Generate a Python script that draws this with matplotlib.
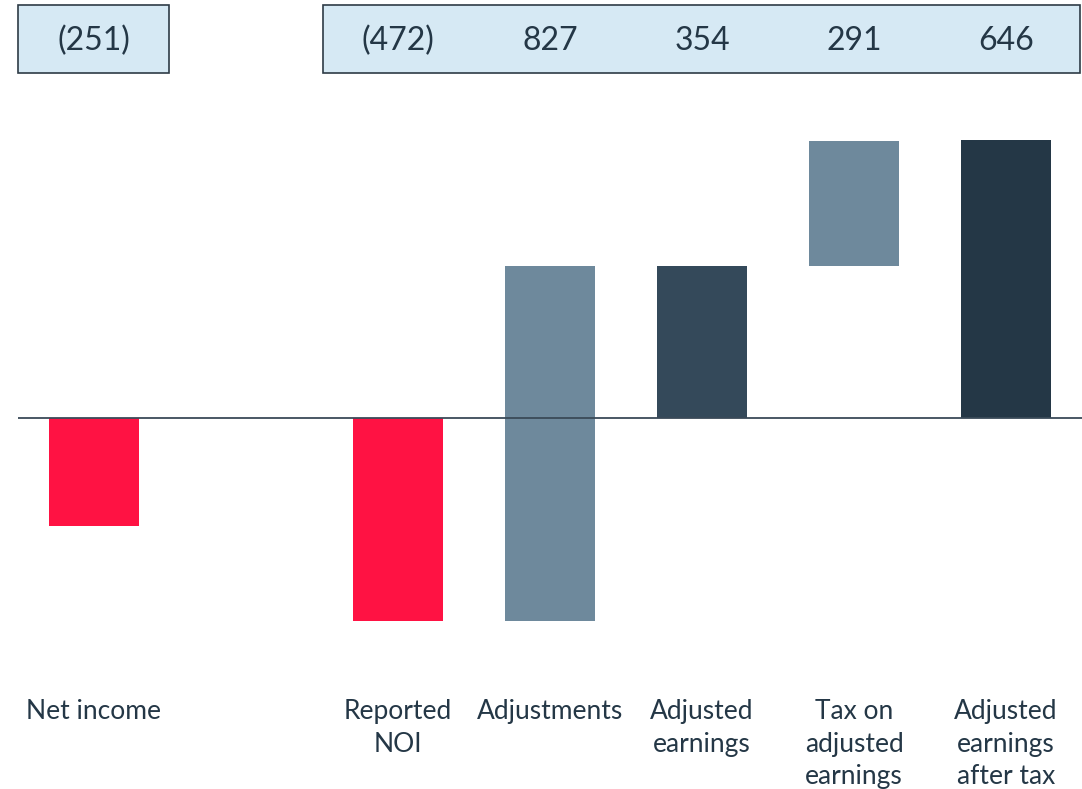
import matplotlib
matplotlib.use("Agg")
import matplotlib.pyplot as plt
from matplotlib.patches import Rectangle

plt.rcParams['font.family'] = ['Lato', 'DejaVu Sans']

# data
labels = ["Net income", "Reported\nNOI", "Adjustments", "Adjusted\nearnings",
          "Tax on\nadjusted\nearnings", "Adjusted\nearnings\nafter tax"]
slots = [0, 2, 3, 4, 5, 6]
bottoms = [0, 0, -472, 0, 354, 0]
heights = [-251, -472, 826, 354, 291, 646]
value_text = ["(251)", "(472)", "827", "354", "291", "646"]
colors = ["#FF1243", "#FF1243", "#6E899C", "#34495A", "#6E899C", "#243746"]

W, H = 1082, 789
fig = plt.figure(figsize=(W / 100, H / 100), dpi=100)

# axes placed in pixel terms: x 18..1082, y 100..680 (from top)
ax = fig.add_axes([18 / W, 1 - 680 / H, (1082 - 18) / W, (680 - 100) / H])
scale = 0.43  # px per unit
ax.set_xlim(-0.5, 6.5)
ax.set_ylim(-(680 - 418) / scale, (418 - 100) / scale)

ax.bar(slots, heights, bottom=bottoms, width=0.59, color=colors, zorder=2)
ax.axhline(0, color="#3A4A58", lw=1.3, zorder=3)
ax.axis("off")

txt_col = "#243746"
for s, lab in zip(slots, labels):
    x_fig = (18 + (s + 0.5) * 152) / W
    fig.text(x_fig, 1 - 699 / H, lab, ha="center", va="top", fontsize=19,
             color=txt_col, linespacing=1.38)

# value boxes at top
for x0, x1 in [(18, 169), (323, 1080)]:
    fig.patches.append(Rectangle((x0 / W, 1 - 73 / H), (x1 - x0) / W, 68 / H,
                                 transform=fig.transFigure, facecolor="#D6E9F4",
                                 edgecolor="#2E3B46", lw=1.2))
for s, v in zip(slots, value_text):
    x_fig = (18 + (s + 0.5) * 152) / W
    fig.text(x_fig, 1 - 41 / H, v, ha="center", va="center", fontsize=23,
             color=txt_col, family=['Liberation Sans Narrow', 'Lato', 'DejaVu Sans'])

fig.savefig("out.png", dpi=100)
